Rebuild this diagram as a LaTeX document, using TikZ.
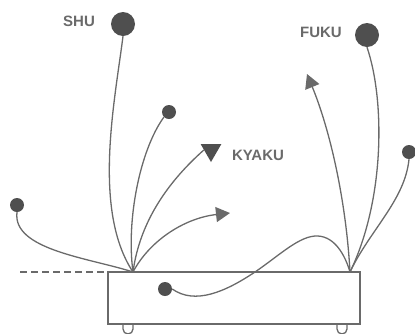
\documentclass[tikz,border=0pt]{standalone}
\usepackage{fontspec}
\setsansfont{Liberation Sans}
\usepackage{tikz}
\usetikzlibrary{arrows.meta,positioning,shapes.geometric}
\definecolor{ink}{HTML}{6A6A6A}
\definecolor{blob}{HTML}{4F4F4F}
\tikzset{
	stem/.style={draw=ink,line width=1.3pt},
	-tip/.style={-{Triangle[length=14pt,width=15pt]},draw=ink,line width=1.3pt},
	bigbead/.style={circle,fill=blob,inner sep=0pt,minimum size=24pt},
	bead/.style={circle,fill=blob,inner sep=0pt,minimum size=14pt},
	tag/.style={text=ink,font=\sffamily\bfseries\fontsize{15}{15}\selectfont},
	box/.style={draw=ink,line width=2pt,rectangle,minimum width=252pt,minimum height=52pt,inner sep=0pt,outer sep=0pt}
}

\begin{document}
\begin{tikzpicture}[x=1pt,y=-1pt]
			\useasboundingbox (0,0) rectangle (415,333);
			\node[box] (tray) at (234,298) {};
			\coordinate (lroot) at (133,272);
			\coordinate (rroot) at (350,272);
			\coordinate (ground) at (20,272);
			\coordinate (rtip) at (230,213);
			\coordinate (utip) at (307,74);
			\coordinate (bend) at (255,272);
			\coordinate (peak) at (318,236);
			
			\node[bigbead] (shu) at (123,24) {};
			\node[bigbead] (fuku) at (367,35) {};
			\node[bead] (lbud) at (169,112) {};
			\node[bead] (side) at (17,205) {};
			\node[bead] (rbud) at (409,152) {};
			\node[bead] (inner) at (165,289) {};
			\node[regular polygon,regular polygon sides=3,shape border rotate=180,fill=blob,inner sep=0pt,minimum size=24pt] (kyaku) at (211,150) {};
			
			\node[tag] (shulabel) at (79,21) {SHU};
			\node[tag] (fukulabel) at (321,32) {FUKU};
			\node[tag] (kyakulabel) at (258,155) {KYAKU};
			
			% left bundle
			\draw[stem] (shu.south) .. controls (115,100) and (92,210) .. (lroot);
			\draw[stem] (lbud.south west) .. controls (140,150) and (126,220) .. (lroot);
			\draw[stem] (lroot) .. controls (140,220) and (170,180) .. (kyaku.west);
			\draw[-tip] (lroot) .. controls (150,240) and (185,218) .. (rtip);
			\draw[stem] (side.south) .. controls (12,250) and (90,258) .. (lroot);
			
			% right bundle
			\draw[stem] (fuku.south) .. controls (385,100) and (385,200) .. (rroot);
			\draw[-tip] (rroot) .. controls (346,200) and (330,130) .. (utip);
			\draw[stem] (rbud.south) .. controls (405,200) and (370,230) .. (rroot);
			\draw[stem] (inner.east) .. controls (195,305) and (225,292) .. (bend)
				.. controls (280,255) and (300,235) .. (peak)
				.. controls (335,237) and (345,255) .. (rroot);
			
			\draw[stem,dashed,dash pattern=on 7pt off 4pt] (ground) -- (ground -| tray.west);
			\draw[stem] (123,325) -- (123,329) arc[start angle=180,end angle=0,radius=5] -- (133,325);
			\draw[stem] (337,325) -- (337,329) arc[start angle=180,end angle=0,radius=5] -- (347,325);
		\end{tikzpicture}
\end{document}
